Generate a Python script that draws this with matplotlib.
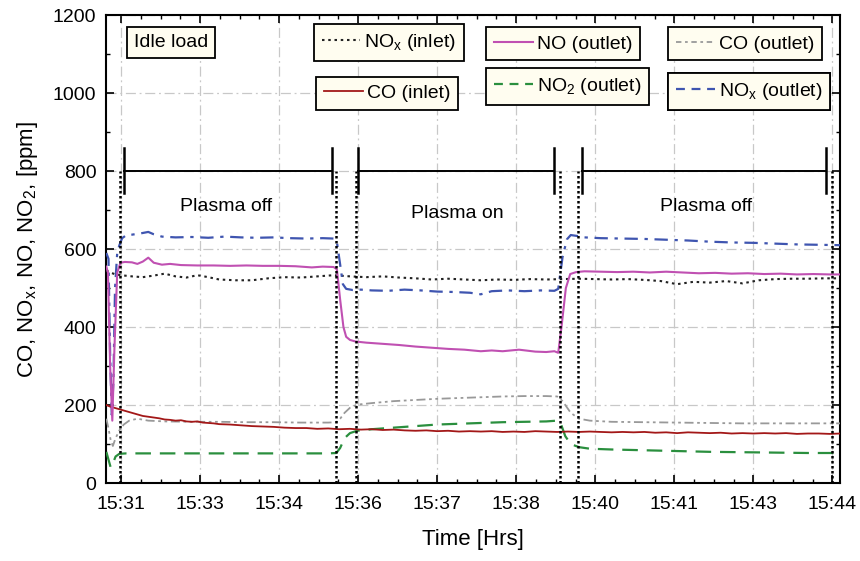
import matplotlib
matplotlib.use("Agg")
import matplotlib.pyplot as plt
from matplotlib.lines import Line2D
from matplotlib.ticker import FixedLocator, MultipleLocator

plt.rcParams['font.family'] = ['Liberation Sans', 'DejaVu Sans']
plt.rcParams['mathtext.default'] = 'regular'

# ---- time axis (minutes after 15:00) ----
tick_pos = [31.2, 32.65, 34.1, 35.55, 37.0, 38.45, 39.9, 41.35, 42.8, 44.25]
tick_labels = ['15:31', '15:33', '15:34', '15:36', '15:37', '15:38',
               '15:40', '15:41', '15:43', '15:44']

# ---- measured concentrations [ppm] ----
nox_out_t = [30.93, 30.97, 31.00, 31.03, 31.06, 31.09, 31.13, 31.17, 31.22, 31.30,
             31.40, 31.55, 31.70, 31.80, 31.95, 32.2, 32.5, 32.8, 33.1, 33.4, 33.7,
             34.0, 34.3, 34.6, 34.9, 35.10, 35.16, 35.22, 35.27, 35.33, 35.45, 35.6,
             35.8, 36.1, 36.4, 36.7, 37.0, 37.3, 37.6, 37.8, 38.0, 38.3, 38.6, 38.9,
             39.15, 39.22, 39.30, 39.38, 39.45, 39.55, 39.7, 40.0, 40.4, 40.8, 41.2,
             41.6, 42.0, 42.4, 42.8, 43.2, 43.6, 44.0, 44.4]
nox_out = [590, 575, 330, 175, 260, 500, 590, 610, 628, 636,
           637, 640, 644, 638, 632, 630, 631, 629, 632, 630, 629,
           630, 628, 627, 628, 627, 618, 560, 510, 498, 495, 496,
           494, 493, 496, 494, 491, 490, 488, 484, 492, 494, 492, 494,
           493, 498, 580, 625, 636, 634, 630, 628, 627, 626, 624,
           622, 619, 617, 616, 614, 612, 611, 610]

no_out_t = [30.93, 30.96, 31.00, 31.04, 31.08, 31.13, 31.19, 31.27, 31.40, 31.50,
            31.60, 31.70, 31.80, 31.95, 32.1, 32.3, 32.6, 32.9, 33.2, 33.5, 33.8,
            34.1, 34.4, 34.7, 34.9, 35.10, 35.16, 35.22, 35.28, 35.33, 35.40, 35.5,
            35.7, 36.0, 36.3, 36.6, 36.9, 37.2, 37.5, 37.8, 38.0, 38.2, 38.5, 38.8,
            39.0, 39.15, 39.22, 39.28, 39.36, 39.44, 39.55, 39.7, 40.0, 40.3, 40.6,
            40.9, 41.2, 41.5, 41.8, 42.1, 42.4, 42.7, 43.0, 43.3, 43.6, 43.9, 44.2, 44.4]
no_out = [555, 540, 300, 160, 350, 540, 565, 567, 566, 562,
          568, 578, 565, 560, 562, 559, 558, 558, 557, 558, 557,
          557, 556, 553, 555, 554, 548, 470, 400, 375, 367, 363,
          360, 357, 354, 350, 347, 344, 342, 338, 340, 338, 342, 337,
          336, 338, 334, 400, 500, 536, 541, 543, 542, 541, 542,
          540, 542, 540, 538, 539, 537, 538, 536, 537, 535, 536, 535, 535]

nox_in_t = [30.93, 31.0, 31.1, 31.2, 31.4, 31.6, 31.8, 32.0, 32.2, 32.4, 32.6, 32.8,
            33.0, 33.3, 33.6, 33.9, 34.2, 34.5, 34.8, 35.1, 35.4, 35.7, 36.0, 36.3,
            36.6, 36.9, 37.2, 37.5, 37.8, 38.1, 38.4, 38.7, 39.0, 39.3, 39.6, 39.9,
            40.2, 40.5, 40.8, 41.1, 41.4, 41.7, 42.0, 42.3, 42.6, 42.9, 43.2, 43.5,
            43.8, 44.1, 44.4]
nox_in = [545, 540, 535, 533, 530, 528, 532, 537, 530, 527, 533, 528,
          522, 520, 520, 525, 528, 527, 530, 533, 530, 528, 530, 527,
          525, 522, 524, 522, 520, 522, 521, 523, 522, 523, 524, 523,
          522, 523, 521, 518, 510, 516, 514, 518, 512, 520, 523, 524,
          524, 525, 525]

co_out_t = [30.93, 30.97, 31.01, 31.05, 31.10, 31.17, 31.25, 31.35, 31.5, 31.7,
            32.0, 32.5, 33.0, 33.5, 34.0, 34.5, 35.0, 35.15, 35.22, 35.30, 35.40,
            35.53, 35.8, 36.2, 36.6, 37.0, 37.4, 37.8, 38.2, 38.6, 39.0, 39.2,
            39.3, 39.45, 39.6, 39.8, 40.2, 40.8, 41.4, 42.0, 42.6, 43.2, 43.8, 44.4]
co_out = [165, 140, 110, 95, 115, 135, 150, 160, 165, 160,
          158, 157, 157, 156, 156, 155, 155, 156, 165, 180, 193,
          201, 205, 210, 213, 216, 218, 220, 222, 223, 223, 222,
          210, 180, 165, 160, 157, 156, 155, 154, 153, 153, 153, 153]

co_in_t = [30.93, 31.0, 31.1, 31.2, 31.3, 31.4, 31.5, 31.6, 31.7, 31.8, 31.9, 32.0,
           32.1, 32.2, 32.3, 32.4, 32.5, 32.6, 32.7, 32.8, 32.9, 33.0, 33.2, 33.4,
           33.6, 33.8, 34.0, 34.2, 34.4, 34.6, 34.8, 35.0, 35.2, 35.4, 35.6, 35.8,
           36.0, 36.2, 36.4, 36.6, 36.8, 37.0, 37.2, 37.4, 37.6, 37.8, 38.0, 38.2,
           38.4, 38.6, 38.8, 39.0, 39.2, 39.4, 39.6, 39.8, 40.0, 40.2, 40.4, 40.6,
           40.8, 41.0, 41.2, 41.4, 41.6, 41.8, 42.0, 42.2, 42.4, 42.6, 42.8, 43.0,
           43.2, 43.4, 43.6, 43.8, 44.0, 44.2, 44.4]
co_in = [200, 196, 192, 188, 184, 180, 176, 172, 170, 168, 166, 163,
         162, 160, 161, 158, 157, 158, 155, 154, 153, 151, 150, 148,
         146, 145, 144, 142, 141, 141, 139, 140, 138, 139, 137, 138,
         136, 137, 135, 134, 135, 133, 134, 132, 133, 132, 133, 131,
         132, 131, 133, 132, 131, 132, 131, 132, 131, 130, 131, 130,
         131, 129, 130, 128, 130, 129, 128, 129, 127, 128, 127, 128,
         127, 128, 126, 127, 127, 126, 127]

no2_out_t = [30.93, 30.97, 31.01, 31.05, 31.10, 31.17, 31.3, 32.0, 33.0, 34.0, 35.0,
             35.15, 35.22, 35.30, 35.40, 35.53, 35.8, 36.2, 36.6, 37.0, 37.4, 37.8,
             38.2, 38.6, 39.0, 39.2, 39.26, 39.35, 39.45, 39.6, 39.8, 40.2, 40.8,
             41.4, 42.0, 42.6, 43.2, 43.8, 44.4]
no2_out = [80, 60, 40, 50, 68, 75, 76, 76, 76, 76, 76,
           77, 90, 115, 128, 134, 138, 142, 146, 150, 152, 154,
           156, 157, 158, 160, 155, 120, 100, 92, 88, 86, 84,
           82, 80, 79, 78, 77, 77]

# ---- test phases ----
phase_names = ['Plasma off', 'Plasma on', 'Plasma off']
phase_start = [31.26, 35.55, 39.66]
phase_end = [35.07, 39.15, 44.14]
phase_label_x = [33.13, 37.37, 41.94]
phase_label_y = [708, 692, 708]
switch_times = [31.19, 35.15, 35.51, 39.26, 39.59, 44.25]
bracket_level = 800

fig = plt.figure(figsize=(8.6, 5.61), dpi=100)
ax = fig.add_axes([0.1233, 0.139, 0.8535, 0.834])

ax.plot(nox_in_t, nox_in, color='#222222', lw=1.5, ls=(0, (1.2, 1.8)), zorder=3)
ax.plot(co_out_t, co_out, color='#999999', lw=1.3, ls=(0, (5, 2, 1.5, 2, 1.5, 2)), zorder=3)
ax.plot(no2_out_t, no2_out, color='#2a8f3e', lw=1.6, ls=(0, (7, 4)), zorder=3)
ax.plot(co_in_t, co_in, color='#a31818', lw=1.3, zorder=4)
ax.plot(nox_out_t, nox_out, color='#3f55b0', lw=1.6, ls=(0, (6, 3, 1.5, 3)), zorder=3)
ax.plot(no_out_t, no_out, color='#c050b2', lw=1.5, zorder=4)

# phase switching markers and brackets
for t in switch_times:
    ax.plot([t, t], [0, bracket_level], color='black', lw=1.8, ls=(0, (1, 1)), zorder=5)
for s, e in zip(phase_start, phase_end):
    ax.plot([s, e], [bracket_level, bracket_level], color='black', lw=1.4, zorder=5)
    for x in (s, e):
        ax.plot([x, x], [745, 858], color='black', lw=1.8, zorder=5)
for name, x, y in zip(phase_names, phase_label_x, phase_label_y):
    ax.text(x, y, name, ha='center', va='center', fontsize=14)

ax.set_xlim(30.925, 44.39)
ax.set_ylim(0, 1200)
ax.xaxis.set_major_locator(FixedLocator(tick_pos))
ax.set_xticklabels(tick_labels)
ax.xaxis.set_minor_locator(FixedLocator(
    [tick_pos[0] + i * 1.45 / 4 for i in range(-1, 40) if i % 4]))
ax.yaxis.set_major_locator(MultipleLocator(200))
ax.yaxis.set_minor_locator(MultipleLocator(100))
ax.tick_params(which='both', direction='in', top=True, right=True, labelsize=14)
ax.tick_params(which='major', length=6, width=1.2)
ax.tick_params(which='minor', length=3, width=1.0)
ax.tick_params(axis='x', pad=9)
ax.tick_params(axis='y', pad=7)
for sp in ax.spines.values():
    sp.set_linewidth(1.5)
ax.grid(True, which='major', color='#c8c8c8', lw=0.9, ls=(0, (8, 3, 1.5, 3)), zorder=0)

ax.set_xlabel('Time [Hrs]', fontsize=16, labelpad=12)
ax.set_ylabel('CO, NO$_x$, NO, NO$_2$, [ppm]', fontsize=16, labelpad=9)

# legend boxes, one per series
box_style = dict(frameon=True, fancybox=False, facecolor='#fffdf0', edgecolor='black',
                 framealpha=1, fontsize=14, handlelength=2.0, handletextpad=0.2,
                 borderpad=0.4, borderaxespad=0)
entries = [
    (Line2D([], [], color='#222222', lw=1.5, ls=(0, (1.2, 1.8))), 'NO$_x$ (inlet)', (0.283, 0.981)),
    (Line2D([], [], color='#a31818', lw=1.3), 'CO (inlet)', (0.286, 0.868)),
    (Line2D([], [], color='#c050b2', lw=1.5), 'NO (outlet)', (0.518, 0.974)),
    (Line2D([], [], color='#2a8f3e', lw=1.6, ls=(0, (4, 3))), 'NO$_2$ (outlet)', (0.518, 0.887)),
    (Line2D([], [], color='#999999', lw=1.3, ls=(0, (3, 2, 1.5, 2))), 'CO (outlet)', (0.766, 0.974)),
    (Line2D([], [], color='#3f55b0', lw=1.6, ls=(0, (4, 3))), 'NO$_x$ (outlet)', (0.766, 0.876)),
]
for h, lab, pos in entries:
    leg = ax.legend(handles=[h], labels=[lab], loc='upper left', bbox_to_anchor=pos, **box_style)
    leg.get_frame().set_linewidth(1.3)
    leg.set_zorder(10)
    ax.add_artist(leg)

ax.text(0.0886, 0.942, 'Idle load', transform=ax.transAxes, ha='center', va='center',
        fontsize=14, zorder=10,
        bbox=dict(boxstyle='square,pad=0.35', facecolor='#fffdf0', edgecolor='black', lw=1.3))

fig.savefig('out.png', dpi=100)
